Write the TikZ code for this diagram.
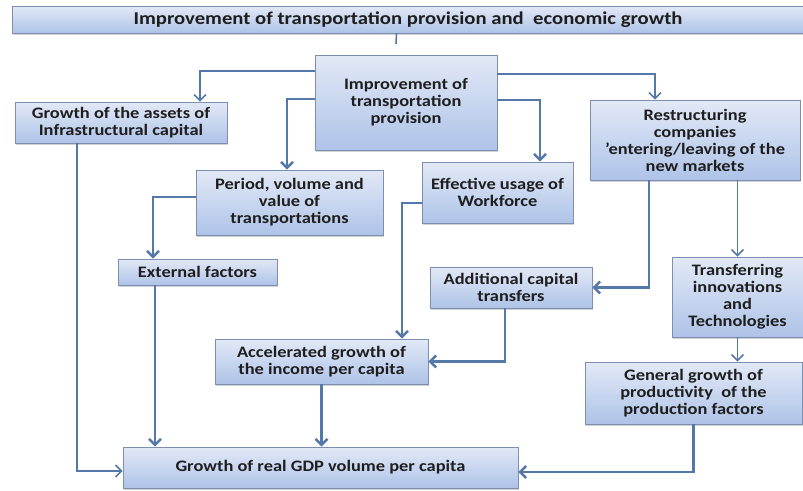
\documentclass[tikz,border=0pt]{standalone}
\usepackage{fontspec}
\setmainfont{Carlito}[FakeStretch=1.15]
\usepackage{xcolor}
\usetikzlibrary{arrows.meta,positioning,shadows}

\definecolor{boxtop}{HTML}{E2E9F6}
\definecolor{boxbot}{HTML}{AEC3E8}
\definecolor{boxline}{HTML}{7C8FAE}
\definecolor{linkblue}{HTML}{5478A8}
\definecolor{txtdark}{HTML}{1E1E1E}

\begin{document}
\begin{tikzpicture}[
    x=1pt, y=-1pt,
    mybox/.style={
    draw=boxline,
    line width=0.6pt,
    top color=boxtop,
    bottom color=boxbot,
    drop shadow={shadow xshift=0.8pt, shadow yshift=-1.5pt, fill=gray!70},
    align=center,
    inner sep=2pt,
    text=txtdark,
    font=\fontsize{16}{17}\selectfont\bfseries},
    mylink/.style={draw=linkblue, line width=2.6pt, -{Straight Barb[length=6pt,width=12pt]}},
    mythin/.style={mylink, line width=1.6pt}
    ]
    \useasboundingbox (0,0) rectangle (803,490);

    \node[mybox, minimum width=792pt, minimum height=27pt,
          font=\fontsize{18}{20}\selectfont\bfseries] (title) at (408,19.5)
          {Improvement of transportation provision and \ economic growth};
    \node[mybox, minimum width=182pt, minimum height=95pt] (imp) at (406,102.5)
          {Improvement of\\ transportation\\ provision};
    \node[mybox, minimum width=212pt, minimum height=41pt] (assets) at (121,122.5)
          {Growth of the assets of\\ Infrastructural capital};
    \node[mybox, minimum width=187pt, minimum height=65pt] (period) at (289.5,202.5)
          {Period, volume and\\ value of\\ transportations};
    \node[mybox, minimum width=151pt, minimum height=61pt] (effective) at (497.5,192.5)
          {Effective usage of\\ Workforce};
    \node[mybox, minimum width=210pt, minimum height=80pt] (restruct) at (695,140)
          {Restructuring\\ companies\\ 'entering/leaving of the\\ new markets};
    \node[mybox, minimum width=159pt, minimum height=26pt] (external) at (197.5,272)
          {External factors};
    \node[mybox, minimum width=162pt, minimum height=41pt] (additional) at (511,287.5)
          {Additional capital\\ transfers};
    \node[mybox, minimum width=131pt, minimum height=80pt] (transfer) at (737.5,297)
          {Transferring\\ innovations\\ and\\ Technologies};
    \node[mybox, minimum width=213pt, minimum height=45pt] (accel) at (321.5,361.5)
          {Accelerated growth of\\ the income per capita};
    \node[mybox, minimum width=217pt, minimum height=62pt] (general) at (693.5,393)
          {General growth of\\ productivity \ of the\\ production factors};
    \node[mybox, minimum width=395pt, minimum height=41pt] (gdp) at (320.5,467.5)
          {Growth of real GDP volume per capita};

    \coordinate (tick) at (396,44);
    \draw[draw=linkblue, line width=1.6pt] ([xshift=-11.5pt]title.south) -- (tick);

    % from the central box
    \draw[mythin] ([yshift=31.5pt]imp.west) -| ([xshift=79pt]assets.north);
    \draw[mylink] ([yshift=3.5pt]imp.west) -| ([xshift=-2.5pt]period.north);
    \draw[mythin] ([yshift=28.5pt]imp.east) -| ([xshift=-40pt]restruct.north);
    \draw[mylink] ([yshift=2.5pt]imp.east) -| ([xshift=42.5pt]effective.north);

    % second row
    \draw[mylink] ([yshift=5.5pt]period.west) -| ([xshift=-44.5pt]external.north);
    \draw[mylink] ([yshift=-10.5pt]effective.west) -| ([xshift=80.5pt]accel.north);
    \draw[mylink] ([xshift=-46pt]restruct.south) |- (additional.east);
    \draw[mythin] (transfer.north |- restruct.south) -- (transfer.north);
    \draw[mythin] (transfer.south) -- (transfer.south |- general.north);
    \draw[mylink] ([xshift=-6pt]additional.south) |- (accel.east);

    % into the bottom box
    \draw[mythin] ([xshift=-44pt]assets.south) |- ([yshift=-3.5pt]gdp.west);
    \draw[mylink] ([xshift=-42.5pt]external.south) -- ([xshift=-42.5pt]external.south |- gdp.north);
    \draw[mylink] (accel.south) -- (accel.south |- gdp.north);
    \draw[mylink] (general.south) |- ([yshift=-4.5pt]gdp.east);
\end{tikzpicture}
\end{document}
